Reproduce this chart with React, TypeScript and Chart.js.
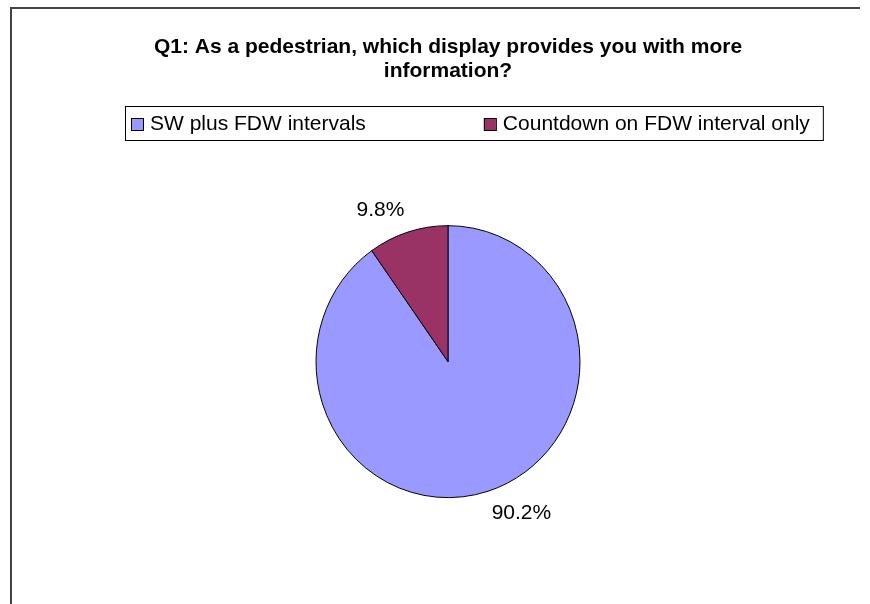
import React, { useEffect, useRef } from "react";
import { Chart, registerables } from "chart.js";

Chart.register(...registerables);

const titleLines = ["Q1: As a pedestrian, which display provides you with more", "information?"];
const categories = ["SW plus FDW intervals", "Countdown on FDW interval only"];
const values = [90.2, 9.8];
const colors = ["#9999FF", "#993366"];

const FONT = '"Liberation Sans", Arial, sans-serif';
const RADIUS = 136;
const X_SCALE = 132 / 136;

const ellipsePlugin = {
  id: "ellipse",
  beforeDatasetsDraw(chart: any) {
    const arc = chart.getDatasetMeta(0).data[0];
    if (!arc) return;
    const ctx = chart.ctx;
    ctx.save();
    ctx.translate(arc.x, arc.y);
    ctx.scale(X_SCALE, 1);
    ctx.translate(-arc.x, -arc.y);
  },
  afterDatasetsDraw(chart: any) {
    chart.ctx.restore();
  },
};

const labelPlugin = {
  id: "sliceLabels",
  afterDraw(chart: any) {
    const ctx = chart.ctx;
    const meta = chart.getDatasetMeta(0);
    ctx.save();
    ctx.font = `21px ${FONT}`;
    ctx.fillStyle = "#000";
    meta.data.forEach((arc: any, i: number) => {
      const mid = (arc.startAngle + arc.endAngle) / 2;
      const dx = Math.cos(mid);
      const dy = Math.sin(mid);
      const ax = arc.x + dx * (arc.outerRadius * X_SCALE + 12);
      const ay = arc.y + dy * (arc.outerRadius + 12);
      const text = values[i].toFixed(1) + "%";
      ctx.textAlign = dx < 0 ? "right" : "left";
      ctx.textBaseline = "middle";
      const cy = ay + (dy < 0 ? -10.5 : 10.5);
      ctx.fillText(text, ax, cy);
    });
    ctx.restore();
  },
};

const legendPlugin = {
  id: "boxLegend",
  afterDraw(chart: any) {
    const ctx = chart.ctx;
    ctx.save();
    ctx.font = `21px ${FONT}`;
    const widths = categories.map((c) => ctx.measureText(c).width);
    const padL = 6, box = 12, gap = 7, itemGap = 118, padR = 13;
    const total = padL + widths.reduce((s, w) => s + box + gap + w, 0) + itemGap * (categories.length - 1) + padR;
    const centerX = 473.5;
    const left = Math.round(centerX - total / 2);
    const top = 106, height = 34;
    ctx.strokeStyle = "#000";
    ctx.lineWidth = 1;
    ctx.strokeRect(left + 0.5, top + 0.5, total, height);
    let x = left + padL;
    const midY = top + height / 2 + 1;
    categories.forEach((c, i) => {
      ctx.fillStyle = colors[i];
      ctx.fillRect(x, midY - 6, box, box);
      ctx.strokeStyle = "#000";
      ctx.strokeRect(x + 0.5, midY - 6 + 0.5, box, box);
      ctx.fillStyle = "#000";
      ctx.textAlign = "left";
      ctx.textBaseline = "middle";
      ctx.fillText(c, x + box + gap, midY);
      x += box + gap + widths[i] + itemGap;
    });
    ctx.restore();
  },
};

const framePlugin = {
  id: "frame",
  beforeDraw(chart: any) {
    const ctx = chart.ctx;
    ctx.save();
    ctx.fillStyle = "#fff";
    ctx.fillRect(0, 0, chart.width, chart.height);
    ctx.strokeStyle = "#444";
    ctx.lineWidth = 2;
    ctx.beginPath();
    ctx.moveTo(11, chart.height);
    ctx.lineTo(11, 8);
    ctx.lineTo(860, 8);
    ctx.stroke();
    ctx.restore();
  },
};

export default function App() {
  const ref = useRef<HTMLCanvasElement>(null);
  useEffect(() => {
    document.body.style.margin = "0";
    document.body.style.overflow = "hidden";
    const chart = new Chart(ref.current!, {
      type: "pie",
      data: {
        labels: categories,
        datasets: [
          {
            data: values,
            backgroundColor: colors,
            borderColor: "#000",
            borderWidth: 1,
            radius: RADIUS,
          },
        ],
      },
      options: {
        responsive: false,
        animation: false,
        layout: { padding: { top: 0, left: 26, right: 0, bottom: 21 } },
        plugins: {
          legend: { display: false },
          tooltip: { enabled: false },
          title: {
            display: true,
            text: titleLines,
            color: "#000",
            font: { family: FONT, size: 21, weight: "bold", lineHeight: 1.15 },
            padding: { top: 35, bottom: 57 },
          },
        },
      },
      plugins: [framePlugin, ellipsePlugin, labelPlugin, legendPlugin],
    });
    return () => chart.destroy();
  }, []);
  return (
    <div style={{ position: "fixed", left: 0, top: 0, width: 870, height: 604 }}>
      <canvas ref={ref} width={870} height={604} />
    </div>
  );
}
